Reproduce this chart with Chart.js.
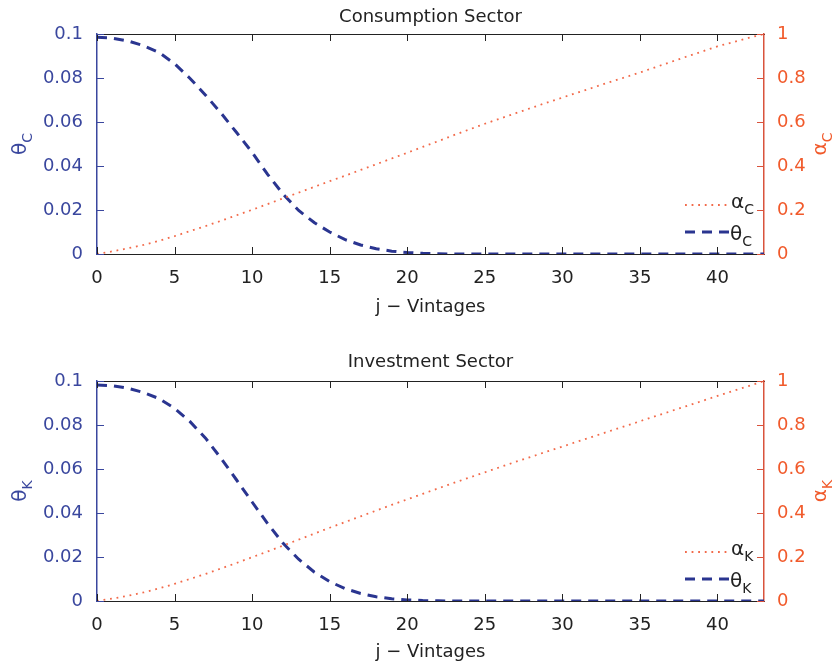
<!DOCTYPE html>
<html>
<head>
<meta charset="utf-8">
<script src="https://cdn.jsdelivr.net/npm/chart.js@4.4.1/dist/chart.umd.min.js"></script>
<style>
  html, body { margin: 0; padding: 0; background: #fff; }
  .box { position: relative; width: 834px; height: 332px; }
</style>
</head>
<body>
<div class="box"><canvas id="consumption"></canvas></div>
<div class="box"><canvas id="investment"></canvas></div>
<script>
// vintages j = 0..43
var vintages = [];
for (var i = 0; i <= 43; i++) vintages.push(i);

var thetaC = [0.0985, 0.0981, 0.0968, 0.0947, 0.0916, 0.0865, 0.0798, 0.0722, 0.0640, 0.0552,
              0.0462, 0.0362, 0.0272, 0.0198, 0.0143, 0.0100, 0.0065, 0.0041, 0.0024, 0.0013,
              0.0007, 0.0003, 0.0001, 0, 0, 0, 0, 0, 0, 0,
              0, 0, 0, 0, 0, 0, 0, 0, 0, 0,
              0, 0, 0, 0];
var alphaC = [0, 0.012, 0.026, 0.041, 0.060, 0.081, 0.104, 0.127, 0.151, 0.176,
              0.201, 0.227, 0.253, 0.279, 0.305, 0.331, 0.356, 0.382, 0.408, 0.434,
              0.460, 0.487, 0.513, 0.540, 0.566, 0.592, 0.616, 0.640, 0.664, 0.688,
              0.711, 0.734, 0.757, 0.780, 0.802, 0.825, 0.849, 0.873, 0.897, 0.920,
              0.944, 0.963, 0.982, 1.0];

var thetaK = [0.0982, 0.0978, 0.0967, 0.0948, 0.0920, 0.0876, 0.0815, 0.0740, 0.0648, 0.0550,
              0.0450, 0.0352, 0.0262, 0.0190, 0.0132, 0.0088, 0.0056, 0.0034, 0.0019, 0.0010,
              0.0005, 0.0002, 0.0001, 0, 0, 0, 0, 0, 0, 0,
              0, 0, 0, 0, 0, 0, 0, 0, 0, 0,
              0, 0, 0, 0];
var alphaK = [0, 0.011, 0.024, 0.039, 0.057, 0.078, 0.100, 0.123, 0.148, 0.173,
              0.199, 0.225, 0.252, 0.279, 0.306, 0.333, 0.359, 0.385, 0.411, 0.437,
              0.462, 0.487, 0.512, 0.537, 0.561, 0.585, 0.609, 0.633, 0.656, 0.679,
              0.702, 0.725, 0.748, 0.771, 0.794, 0.817, 0.840, 0.863, 0.886, 0.909,
              0.932, 0.955, 0.977, 1.0];

var xTicks = [0, 5, 10, 15, 20, 25, 30, 35, 40];
var thetaTicks = [0, 0.02, 0.04, 0.06, 0.08, 0.1];
var thetaTickLabels = ['0', '0.02', '0.04', '0.06', '0.08', '0.1'];
var alphaTicks = [0, 0.2, 0.4, 0.6, 0.8, 1];
var alphaTickLabels = ['0', '0.2', '0.4', '0.6', '0.8', '1'];

var FONT = '"DejaVu Sans", sans-serif';
var BLUE_LINE = '#2A3590';
var BLUE_TEXT = '#3A479E';
var ORANGE_TEXT = '#F15A2B';
var ORANGE_AXIS = '#D9533C';
var ORANGE_LINE = '#F26A4A';
var DARK = '#222222';

function pts(ys) {
  return vintages.map(function (j, k) { return { x: j, y: ys[k] }; });
}

// symbol plus a small subscript letter
function subText(ctx, main, sub, x, y, align) {
  ctx.font = '20px ' + FONT;
  var w1 = ctx.measureText(main).width;
  ctx.font = '14px ' + FONT;
  var w2 = ctx.measureText(sub).width;
  var start = align === 'center' ? x - (w1 + w2) / 2 : x;
  ctx.textAlign = 'left';
  ctx.textBaseline = 'alphabetic';
  ctx.font = '20px ' + FONT;
  ctx.fillText(main, start, y);
  ctx.font = '14px ' + FONT;
  ctx.fillText(sub, start + w1, y + 6);
}

var decor = {
  id: 'decor',
  afterDraw: function (chart, args, opts) {
    var ctx = chart.ctx, a = chart.chartArea;
    var sx = chart.scales.x, sy = chart.scales.y, sy1 = chart.scales.y1;
    var tl = 7;
    ctx.save();
    ctx.lineWidth = 1;
    function seg(x1, y1, x2, y2) { ctx.beginPath(); ctx.moveTo(x1, y1); ctx.lineTo(x2, y2); ctx.stroke(); }
    // inward ticks
    ctx.strokeStyle = DARK;
    xTicks.forEach(function (v) {
      var px = Math.round(sx.getPixelForValue(v)) + 0.5;
      seg(px, a.bottom, px, a.bottom - tl);
      seg(px, a.top, px, a.top + tl);
    });
    ctx.strokeStyle = BLUE_TEXT;
    thetaTicks.forEach(function (v) {
      var py = Math.round(sy.getPixelForValue(v)) + 0.5;
      seg(a.left, py, a.left + tl, py);
    });
    ctx.strokeStyle = ORANGE_AXIS;
    alphaTicks.forEach(function (v) {
      var py = Math.round(sy1.getPixelForValue(v)) + 0.5;
      seg(a.right, py, a.right - tl, py);
    });

    // axis titles, rotated
    var cy = (a.top + a.bottom) / 2;
    ctx.fillStyle = BLUE_TEXT;
    ctx.save();
    ctx.translate(26, cy);
    ctx.rotate(-Math.PI / 2);
    subText(ctx, 'θ', opts.sub, 0, 0, 'center');
    ctx.restore();
    ctx.fillStyle = ORANGE_TEXT;
    ctx.save();
    ctx.translate(826, cy);
    ctx.rotate(-Math.PI / 2);
    subText(ctx, 'α', opts.sub, 0, 0, 'center');
    ctx.restore();

    // legend
    var lx1 = a.right - 79, lx2 = a.right - 36;
    ctx.strokeStyle = ORANGE_LINE;
    ctx.lineWidth = 1.8;
    ctx.setLineDash([1.8, 4.8]);
    seg(lx1, a.bottom - 49, lx2, a.bottom - 49);
    ctx.strokeStyle = BLUE_LINE;
    ctx.lineWidth = 3;
    ctx.setLineDash([10, 7]);
    seg(lx1, a.bottom - 22, lx2 + 2, a.bottom - 22);
    ctx.setLineDash([]);
    ctx.fillStyle = DARK;
    subText(ctx, 'α', opts.sub, a.right - 33, a.bottom - 46, 'left');
    subText(ctx, 'θ', opts.sub, a.right - 34, a.bottom - 14, 'left');
    ctx.restore();
  }
};

function makeChart(id, theta, alpha, sub, title, geo) {
  return new Chart(document.getElementById(id), {
    type: 'line',
    data: {
      datasets: [{
        label: 'alpha',
        data: pts(alpha),
        yAxisID: 'y1',
        borderColor: ORANGE_LINE,
        borderWidth: 1.8,
        borderDash: [1.8, 4.8],
        pointRadius: 0,
        tension: 0
      }, {
        label: 'theta',
        data: pts(theta),
        yAxisID: 'y',
        borderColor: BLUE_LINE,
        borderWidth: 3,
        borderDash: [10, 7],
        pointRadius: 0,
        tension: 0
      }]
    },
    options: {
      responsive: true,
      maintainAspectRatio: false,
      animation: false,
      layout: { padding: 0 },
      plugins: {
        legend: { display: false },
        tooltip: { enabled: false },
        decor: { sub: sub }
      },
      scales: {
        x: {
          type: 'linear',
          position: 'bottom',
          min: 0,
          max: 43,
          afterBuildTicks: function (s) { s.ticks = xTicks.map(function (v) { return { value: v }; }); },
          afterFit: function (s) { s.height = geo.bottomH; },
          grid: { display: false, drawTicks: false },
          border: { display: true, color: DARK, width: 1 },
          ticks: { color: DARK, padding: 14, font: { size: 18, family: FONT }, callback: function (v) { return String(v); } },
          title: { display: true, text: 'j − Vintages', color: DARK, font: { size: 18, family: FONT }, padding: { top: 0, bottom: geo.xTitlePad } }
        },
        xTop: {
          type: 'linear',
          position: 'top',
          min: 0,
          max: 43,
          afterFit: function (s) { s.height = geo.topH; },
          grid: { display: false, drawTicks: false },
          border: { display: true, color: DARK, width: 1 },
          ticks: { display: false },
          title: { display: true, text: title, color: DARK, font: { size: 18, family: FONT }, padding: { top: geo.titlePad, bottom: 0 } }
        },
        y: {
          position: 'left',
          min: 0,
          max: 0.1,
          afterBuildTicks: function (s) { s.ticks = thetaTicks.map(function (v) { return { value: v }; }); },
          afterFit: function (s) { s.width = 97; },
          grid: { display: false, drawTicks: false },
          border: { display: true, color: BLUE_TEXT, width: 1.5 },
          ticks: { color: BLUE_TEXT, padding: 14, font: { size: 18, family: FONT },
                   callback: function (v) { return thetaTickLabels[thetaTicks.indexOf(v)]; } }
        },
        y1: {
          position: 'right',
          min: 0,
          max: 1,
          afterBuildTicks: function (s) { s.ticks = alphaTicks.map(function (v) { return { value: v }; }); },
          afterFit: function (s) { s.width = 70; },
          grid: { display: false, drawTicks: false },
          border: { display: true, color: ORANGE_AXIS, width: 1.5 },
          ticks: { color: ORANGE_TEXT, padding: 13, font: { size: 18, family: FONT },
                   callback: function (v) { return alphaTickLabels[alphaTicks.indexOf(v)]; } }
        }
      }
    },
    plugins: [decor]
  });
}

makeChart('consumption', thetaC, alphaC, 'C', 'Consumption Sector',
          { topH: 34, bottomH: 78, titlePad: 7, xTitlePad: 14 });
makeChart('investment', thetaK, alphaK, 'K', 'Investment Sector',
          { topH: 49, bottomH: 63, titlePad: 20, xTitlePad: 1 });
</script>
</body>
</html>
